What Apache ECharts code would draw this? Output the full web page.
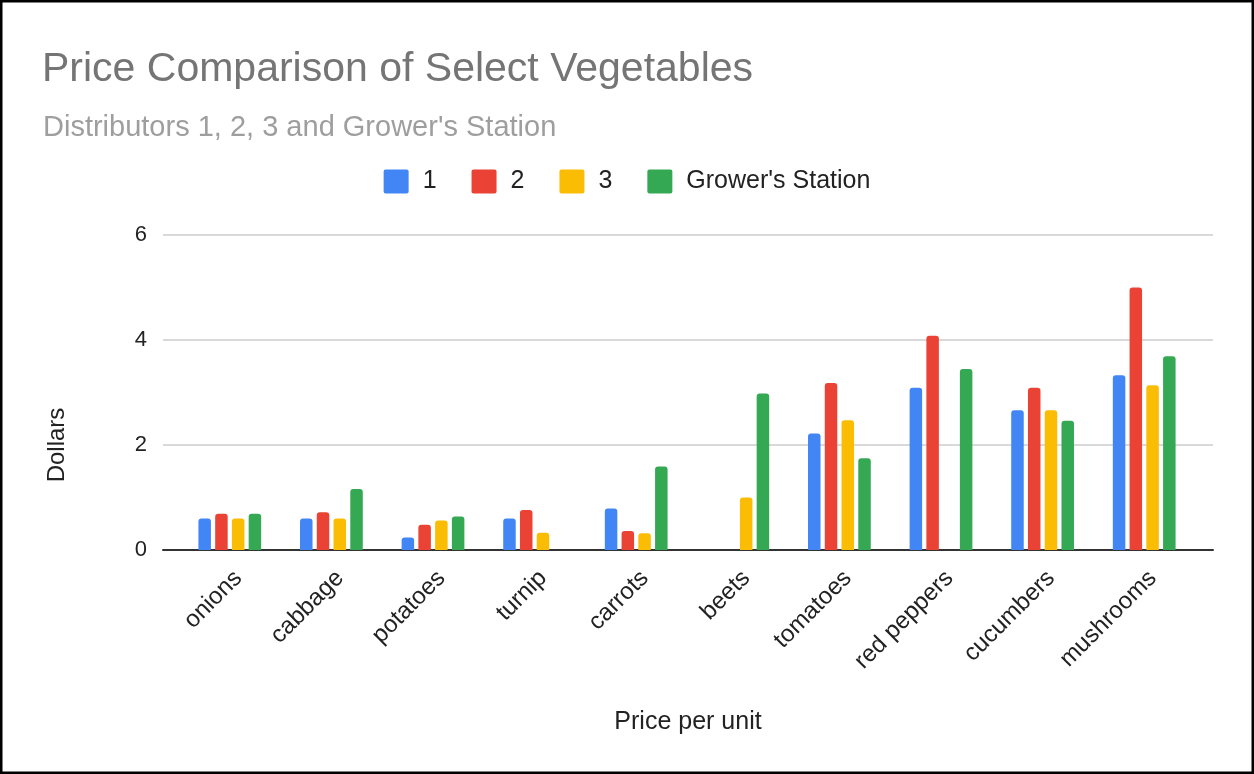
<!DOCTYPE html>
<html>
<head>
<meta charset="utf-8">
<script src="https://cdn.jsdelivr.net/npm/echarts@6/dist/echarts.min.js"></script>
<style>
html,body{margin:0;padding:0;background:#fff;}
#chart{width:1254px;height:774px;}
</style>
</head>
<body>
<div id="chart"></div>
<script>
const categories = ['onions','cabbage','potatoes','turnip','carrots','beets','tomatoes','red peppers','cucumbers','mushrooms'];
const seriesNames = ['1','2','3',"Grower's Station"];
const dist1 = [0.60, 0.60, 0.24, 0.60, 0.79, null, 2.22, 3.09, 2.66, 3.33];
const dist2 = [0.69, 0.72, 0.48, 0.76, 0.36, null, 3.18, 4.08, 3.09, 5.00];
const dist3 = [0.60, 0.60, 0.56, 0.33, 0.32, 1.00, 2.47, null, 2.66, 3.14];
const grower = [0.69, 1.16, 0.64, null, 1.59, 2.98, 1.75, 3.45, 2.46, 3.69];
const yTicks = {min: 0, max: 6, interval: 2};

const colors = ['#4285F4','#EA4335','#FBBC04','#34A853'];
const FONT = "'Liberation Sans', Arial, sans-serif";
const chart = echarts.init(document.getElementById('chart'));
const values = [dist1, dist2, dist3, grower];

chart.setOption({
  animation: false,
  color: colors,
  textStyle: {fontFamily: FONT},
  title: [
    {text: 'Price Comparison of Select Vegetables', left: 37, top: 44,
     textStyle: {fontFamily: FONT, fontSize: 41, fontWeight: 'normal', color: '#757575'}},
    {text: "Distributors 1, 2, 3 and Grower's Station", left: 38, top: 108,
     textStyle: {fontFamily: FONT, fontSize: 29, fontWeight: 'normal', color: '#9e9e9e'}}
  ],
  legend: {
    top: 164, left: 'center', itemWidth: 25, itemHeight: 24, itemGap: 35,
    icon: 'path://M2,0 L23,0 Q25,0 25,2 L25,22 Q25,24 23,24 L2,24 Q0,24 0,22 L0,2 Q0,0 2,0 Z',
    data: seriesNames,
    textStyle: {fontFamily: FONT, fontSize: 25, color: '#222', padding: [0,0,0,9]}
  },
  graphic: [
    {type: 'rect', shape: {x: 1, y: 1, width: 1252, height: 772},
     style: {fill: 'none', stroke: '#000', lineWidth: 3}, silent: true},
    {type: 'text', x: 57, y: 445, rotation: Math.PI / 2,
     style: {text: 'Dollars', fontFamily: FONT, fontSize: 24, fill: '#222',
             textAlign: 'center', textVerticalAlign: 'middle'}}
  ],
  grid: [
    {left: 163, right: 41, top: 235, bottom: 224},
    {left: 179, right: 59, top: 235, bottom: 224}
  ],
  xAxis: [
    {gridIndex: 0, type: 'value', min: 0, max: 1,
     axisLine: {show: true, onZero: false, lineStyle: {color: '#333', width: 2}},
     axisTick: {show: false}, axisLabel: {show: false}, splitLine: {show: false},
     name: 'Price per unit', nameLocation: 'middle', nameGap: 160,
     nameTextStyle: {fontFamily: FONT, fontSize: 25, color: '#222'}},
    {gridIndex: 1, type: 'category', data: categories,
     axisLine: {show: false}, axisTick: {show: false},
     axisLabel: {rotate: 45, margin: 16, verticalAlign: 'top', fontFamily: FONT, fontSize: 24, color: '#222', interval: 0}}
  ],
  yAxis: [
    {gridIndex: 0, type: 'value', min: yTicks.min, max: yTicks.max, interval: yTicks.interval,
     axisLine: {show: false}, axisTick: {show: false},
     axisLabel: {margin: 16, fontFamily: FONT, fontSize: 22, color: '#222', padding: [3,0,0,0]},
     splitLine: {lineStyle: {color: '#cccccc', width: 1.5}}},
    {gridIndex: 1, type: 'value', min: yTicks.min, max: yTicks.max, interval: yTicks.interval,
     show: false, splitLine: {show: false}}
  ],
  series: seriesNames.map((n, i) => ({
    name: n, type: 'bar', xAxisIndex: 1, yAxisIndex: 1,
    data: values[i], barWidth: 12.5, barGap: '34%',
    itemStyle: {borderRadius: [3,3,0,0]}
  }))
});
</script>
</body>
</html>
